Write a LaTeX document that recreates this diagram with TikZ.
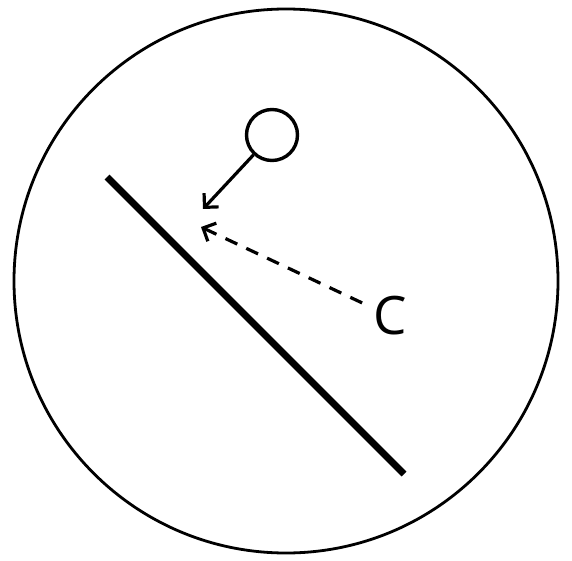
\documentclass[tikz,border=0pt]{standalone}
\usepackage{fontspec}
\setsansfont{Open Sans}
\usetikzlibrary{arrows.meta}
\tikzset{ball/.style={circle,draw,line width=3.4pt,minimum size=51pt,inner sep=0pt},label/.style={font=\sffamily\fontsize{53}{53}\selectfont,inner sep=11pt},push/.style={-{Straight Barb[length=10pt,width=20pt,line width=3.2pt]},line width=3.2pt},pull/.style={push,dash pattern=on 13pt off 10pt},wall/.style={line width=7pt}}

\begin{document}
\begin{tikzpicture}[x=1pt,y=-1pt]
\useasboundingbox (0,0) rectangle (572,561);
\draw[line width=2.8pt] (286,281) circle (272);
\node[ball] (ball) at (272,135) {};
\node[label] (c) at (390,316) {C};
\coordinate (hit) at (203,209);
\coordinate (pulltip) at (201,227);
\draw[push] (ball) -- (hit);
\draw[pull] (c) -- (pulltip);
\coordinate (w1) at (107,177);
\coordinate (w2) at (404,474);
\draw[wall] (w1) -- (w2);
\end{tikzpicture}
\end{document}
